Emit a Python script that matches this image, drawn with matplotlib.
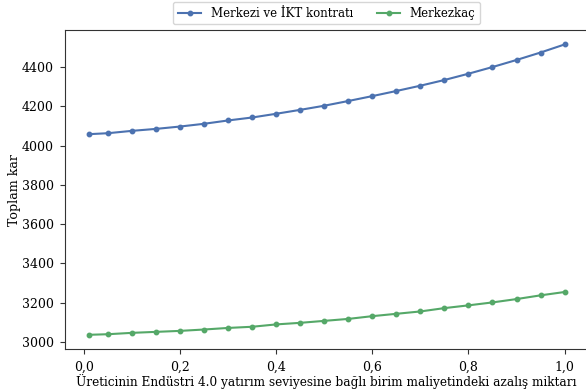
import matplotlib
matplotlib.use("Agg")
import matplotlib.pyplot as plt
from matplotlib.ticker import FuncFormatter

plt.rcParams['font.family'] = ['DejaVu Serif']

# azalış miktarı (x) ve toplam kar değerleri
x_values = [0.01, 0.05, 0.10, 0.15, 0.20, 0.25, 0.30, 0.35, 0.40, 0.45, 0.50,
            0.55, 0.60, 0.65, 0.70, 0.75, 0.80, 0.85, 0.90, 0.95, 1.00]
merkezi_ikt = [4058, 4063, 4075, 4085, 4097, 4111, 4128, 4143, 4162, 4182, 4203,
               4227, 4252, 4278, 4305, 4334, 4366, 4400, 4436, 4474, 4515]
merkezkac = [3036, 3039, 3046, 3051, 3056, 3063, 3071, 3077, 3089, 3097, 3107,
             3117, 3131, 3143, 3155, 3172, 3186, 3201, 3218, 3237, 3254]
series_labels = ["Merkezi ve İKT kontratı", "Merkezkaç"]

fig = plt.figure(figsize=(5.86, 3.89), dpi=100)
ax = fig.add_axes([0.111, 0.102, 0.893, 0.821])

ax.plot(x_values, merkezi_ikt, color='#4c72b0', marker='o', markersize=3.2,
        linewidth=1.5, label=series_labels[0])
ax.plot(x_values, merkezkac, color='#55a868', marker='o', markersize=3.2,
        linewidth=1.5, label=series_labels[1])

ax.set_xticks([0.0, 0.2, 0.4, 0.6, 0.8, 1.0])
ax.xaxis.set_major_formatter(FuncFormatter(lambda v, p: f"{v:.1f}".replace('.', ',')))
ax.tick_params(labelsize=9, pad=4.5, color='#333333')
for spine in ax.spines.values():
    spine.set_color('#333333')

ax.set_xlabel("Üreticinin Endüstri 4.0 yatırım seviyesine bağlı birim maliyetindeki azalış miktarı",
              fontsize=8.7, labelpad=0.5)
ax.set_ylabel("Toplam kar", fontsize=9.1, labelpad=1)

ax.legend(loc='lower center', bbox_to_anchor=(0.5, 1.01), ncol=2, fontsize=8.5,
          frameon=True, borderaxespad=0.2, columnspacing=2.0)

fig.savefig("out.png", dpi=100)
